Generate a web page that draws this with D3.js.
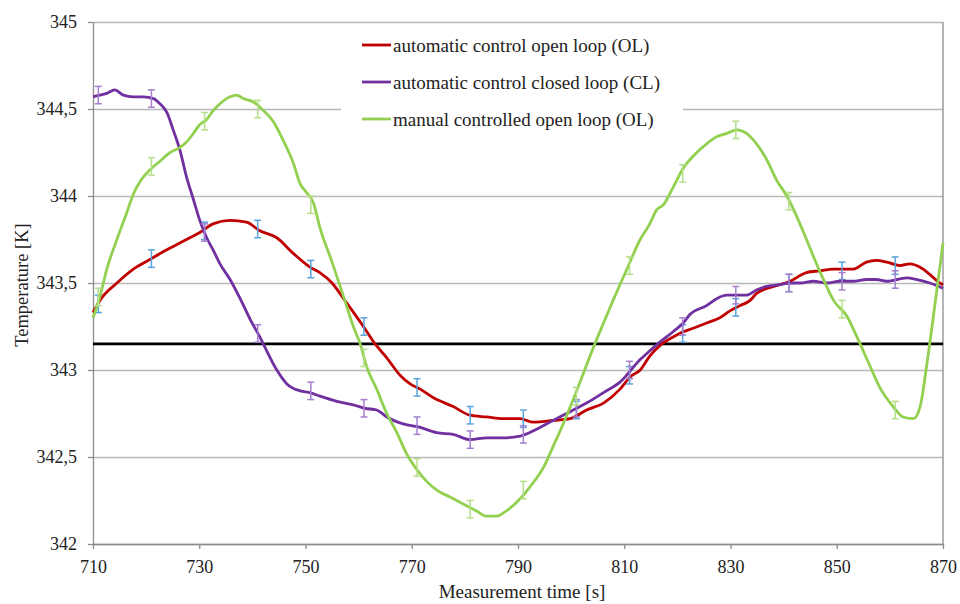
<!DOCTYPE html>
<html>
<head>
<meta charset="utf-8">
<script src="https://cdn.jsdelivr.net/npm/d3@7"></script>
<style>
  body { margin: 0; background: #fff; }
  svg text { font-family: "Liberation Serif", "DejaVu Serif", serif; fill: #222; }
</style>
</head>
<body>
<script>
// series, [time s, temperature K]
const olCurve = [
  [710, 343.33], [711.3, 343.40], [714.5, 343.50], [717.6, 343.58], [721, 343.64], [723.2, 343.68],
  [725.1, 343.71], [727.6, 343.75], [730.1, 343.79], [732.6, 343.84], [735.8, 343.86], [738.9, 343.85],
  [741.4, 343.80], [744.6, 343.76], [747.7, 343.67], [750.9, 343.59], [752.7, 343.56], [755, 343.50],
  [757.4, 343.40], [760.9, 343.25], [763.1, 343.15], [765.3, 343.07], [767.8, 342.97], [769.7, 342.92],
  [771.6, 342.89], [774.1, 342.84], [777.8, 342.79], [781, 342.74], [784.1, 342.73], [787.2, 342.72],
  [790.4, 342.72], [792.9, 342.70], [796.6, 342.71], [799.8, 342.72], [802.9, 342.77], [806.1, 342.81],
  [809.2, 342.89], [811.1, 342.96], [813, 343.00], [814.8, 343.08], [816.7, 343.14], [819.2, 343.19],
  [821.1, 343.22], [823, 343.24], [825.5, 343.27], [828, 343.30], [829.9, 343.34], [831.8, 343.37],
  [833.7, 343.40], [834.9, 343.44], [838.1, 343.48], [841.2, 343.51], [844.3, 343.56], [846.8, 343.57],
  [849.4, 343.58], [853.1, 343.58], [855.6, 343.62], [857.5, 343.63], [859.4, 343.62], [861.9, 343.60],
  [863.8, 343.61], [865.7, 343.59], [867.5, 343.55], [869.4, 343.50], [870, 343.49]
];

const clCurve = [
  [710, 344.57], [711.3, 344.58], [712.6, 344.59], [714.1, 344.61], [715.7, 344.58], [717.6, 344.57],
  [719.5, 344.57], [721.4, 344.56], [722.6, 344.53], [723.9, 344.48], [725.1, 344.38], [726.4, 344.26],
  [727.6, 344.11], [728.9, 343.98], [730.1, 343.86], [731.4, 343.76], [732.6, 343.69], [733.9, 343.61],
  [735.8, 343.52], [737.7, 343.41], [739.6, 343.29], [741.4, 343.19], [742.7, 343.11], [744.6, 343.00],
  [746.5, 342.92], [749, 342.88], [750.8, 342.87], [752.7, 342.85], [755.9, 342.82], [759, 342.80],
  [761.2, 342.78], [763.4, 342.77], [765.3, 342.73], [768.4, 342.69], [771.6, 342.67], [774.7, 342.64],
  [777.8, 342.63], [781, 342.60], [784.1, 342.61], [787.2, 342.61], [790.4, 342.62], [793.5, 342.66],
  [796.6, 342.71], [799.8, 342.76], [802.9, 342.81], [806.1, 342.87], [809.2, 342.93], [813, 343.06],
  [814.8, 343.11], [816.7, 343.16], [819.2, 343.22], [821.1, 343.27], [822.4, 343.32], [825.5, 343.37],
  [827.4, 343.41], [829.3, 343.43], [831.2, 343.43], [833, 343.43], [834.9, 343.46], [836.8, 343.48],
  [839.3, 343.49], [841.2, 343.50], [843.1, 343.50], [845.6, 343.51], [848.1, 343.50], [850.6, 343.51],
  [853.1, 343.51], [855.6, 343.52], [857.5, 343.52], [859.4, 343.51], [863.2, 343.53], [865.1, 343.52],
  [867.5, 343.50], [870, 343.47]
];

const manCurve = [
  [710, 343.30], [711.3, 343.42], [712.6, 343.58], [714.5, 343.75], [716.3, 343.90], [717.6, 344.01],
  [718.8, 344.08], [720.7, 344.15], [722.6, 344.20], [724.5, 344.25], [726.4, 344.28], [727.6, 344.31],
  [728.9, 344.36], [730.1, 344.41], [731.4, 344.44], [732.6, 344.49], [733.9, 344.53], [735.8, 344.57],
  [737, 344.58], [738.3, 344.56], [740.2, 344.54], [742.1, 344.49], [743.9, 344.43], [745.8, 344.32],
  [747.7, 344.19], [749, 344.07], [750.2, 344.02], [751.5, 343.96], [752.7, 343.82], [755, 343.62],
  [757.4, 343.40], [759, 343.25], [760.3, 343.15], [761.5, 343.02], [763.4, 342.89], [765.3, 342.75],
  [767.2, 342.64], [769, 342.52], [770.9, 342.43], [772.8, 342.36], [774.7, 342.31], [777.2, 342.27],
  [779.7, 342.23], [782.2, 342.19], [784.1, 342.16], [786, 342.16], [787.8, 342.19], [790.4, 342.26],
  [792.3, 342.33], [794.8, 342.44], [796.6, 342.56], [798.5, 342.69], [800.4, 342.83], [802.3, 342.98],
  [804.2, 343.13], [806.1, 343.27], [807.9, 343.40], [810.5, 343.58], [813, 343.75], [814.8, 343.84],
  [816.1, 343.92], [817.4, 343.95], [819.2, 344.05], [821.1, 344.16], [823, 344.23], [825.5, 344.30],
  [827.4, 344.34], [829.3, 344.36], [831.2, 344.38], [833, 344.36], [834.9, 344.30], [836.8, 344.21],
  [838.7, 344.09], [840.6, 344.00], [842.5, 343.88], [844.3, 343.75], [846.2, 343.61], [848.1, 343.48],
  [849.4, 343.40], [851.9, 343.31], [853.8, 343.19], [856.3, 343.02], [858.1, 342.90], [860.6, 342.79],
  [862.5, 342.73], [864.4, 342.72], [865.7, 342.79], [866.9, 343.02], [868.2, 343.31], [870, 343.73]
];

// error bar positions and centres
const errTimes = [711, 721, 731, 741, 751, 761, 771, 781, 791, 801, 811, 821, 831, 841, 851, 861];
const olErr  = [343.38, 343.64, 343.80, 343.81, 343.58, 343.25, 342.90, 342.74, 342.72, 342.77, 342.97, 343.21, 343.36, 343.50, 343.57, 343.60];
const clErr  = [344.58, 344.56, 343.79, 343.21, 342.88, 342.78, 342.68, 342.60, 342.63, 342.78, 343.00, 343.25, 343.43, 343.50, 343.51, 343.52];
const manErr = [343.42, 344.17, 344.43, 344.50, 343.95, 343.07, 342.44, 342.20, 342.31, 342.85, 343.60, 344.13, 344.38, 343.97, 343.35, 342.77];
const errHalf = 0.05;

const seriesNames = ["automatic control open loop (OL)", "automatic control closed loop (CL)", "manual controlled open loop (OL)"];
const setpoint = 343.15;

const xTicks = [710, 730, 750, 770, 790, 810, 830, 850, 870];
const yTicks = [342, 342.5, 343, 343.5, 344, 344.5, 345];

const W = 960, H = 604;
const plotL = 93, plotR = 943, plotT = 22, plotB = 544;
const serif = '"Liberation Serif", "DejaVu Serif", serif';

const svg = d3.select("body").append("svg").attr("width", W).attr("height", H);

const x = d3.scaleLinear().domain([710, 870]).range([plotL, plotR]);
const y = d3.scaleLinear().domain([342, 345]).range([plotB, plotT]);

const comma = d3.formatLocale({decimal: ",", thousands: ".", grouping: [3], currency: ["", ""]}).format("~f");

// gridlines
svg.append("g")
    .attr("transform", `translate(${plotL},0)`)
    .call(d3.axisLeft(y).tickValues(yTicks).tickSize(-(plotR - plotL)).tickFormat(""))
    .call(g => g.select(".domain").remove())
    .call(g => g.selectAll("line").attr("stroke", "#b8b8b8").attr("stroke-width", 1.3));

// right border
svg.append("line")
    .attr("x1", plotR).attr("x2", plotR).attr("y1", plotT).attr("y2", plotB)
    .attr("stroke", "#8c8c8c").attr("stroke-width", 1.3);

// y axis
svg.append("g")
    .attr("transform", `translate(${plotL},0)`)
    .call(d3.axisLeft(y).tickValues(yTicks).tickSize(5).tickSizeOuter(0).tickPadding(11).tickFormat(comma))
    .attr("font-family", serif)
    .call(g => g.select(".domain").attr("stroke", "#8c8c8c").attr("stroke-width", 1.3))
    .call(g => g.selectAll(".tick line").attr("stroke", "#8c8c8c").attr("stroke-width", 1.3))
    .call(g => g.selectAll("text").attr("font-size", 18).attr("fill", "#222"));

// x axis
svg.append("g")
    .attr("transform", `translate(0,${plotB})`)
    .call(d3.axisBottom(x).tickValues(xTicks).tickSize(5).tickSizeOuter(0).tickPadding(11))
    .attr("font-family", serif)
    .call(g => g.select(".domain").attr("stroke", "#8c8c8c").attr("stroke-width", 1.3))
    .call(g => g.selectAll(".tick line").attr("stroke", "#8c8c8c").attr("stroke-width", 1.3))
    .call(g => g.selectAll("text").attr("font-size", 18).attr("fill", "#222"));

// legend background hides the gridline
svg.append("rect")
    .attr("x", 341).attr("y", 28).attr("width", 342).attr("height", 110)
    .attr("fill", "#fff");

// setpoint line
svg.append("line")
    .attr("x1", x(710)).attr("x2", x(870)).attr("y1", y(setpoint)).attr("y2", y(setpoint))
    .attr("stroke", "#000").attr("stroke-width", 2.6);

const line = d3.line()
    .x(d => x(d[0]))
    .y(d => y(d[1]))
    .curve(d3.curveMonotoneX);

const series = [
  {curve: olCurve, err: olErr, color: "#c00000", errColor: "#5ba3dc"},
  {curve: clCurve, err: clErr, color: "#7030a0", errColor: "#a57fd0"},
  {curve: manCurve, err: manErr, color: "#92d050", errColor: "#b3df88"}
];

series.forEach(s => {
    svg.append("path")
        .datum(s.curve)
        .attr("d", line)
        .attr("fill", "none")
        .attr("stroke", s.color)
        .attr("stroke-width", 2.8)
        .attr("stroke-linejoin", "round");

    let bars = svg.append("g").selectAll("g")
        .data(errTimes.map((t, i) => [t, s.err[i]]))
        .enter().append("g")
        .attr("stroke", s.errColor)
        .attr("stroke-width", 1.5);

    bars.append("line")
        .attr("x1", d => x(d[0])).attr("x2", d => x(d[0]))
        .attr("y1", d => y(d[1] - errHalf)).attr("y2", d => y(d[1] + errHalf));
    bars.append("line")
        .attr("x1", d => x(d[0]) - 3.5).attr("x2", d => x(d[0]) + 3.5)
        .attr("y1", d => y(d[1] - errHalf)).attr("y2", d => y(d[1] - errHalf));
    bars.append("line")
        .attr("x1", d => x(d[0]) - 3.5).attr("x2", d => x(d[0]) + 3.5)
        .attr("y1", d => y(d[1] + errHalf)).attr("y2", d => y(d[1] + errHalf));
});

// legend
const legend = svg.append("g").selectAll("g")
    .data(seriesNames)
    .enter().append("g")
    .attr("transform", (d, i) => `translate(362,${45 + i * 37})`);

legend.append("line")
    .attr("x1", 0).attr("x2", 29)
    .attr("stroke", (d, i) => series[i].color)
    .attr("stroke-width", 2.8);

legend.append("text")
    .attr("x", 31).attr("y", 7)
    .attr("font-family", serif)
    .attr("font-size", 19)
    .text(d => d);

// axis titles
svg.append("text")
    .attr("x", 522).attr("y", 598)
    .attr("text-anchor", "middle")
    .attr("font-family", serif)
    .attr("font-size", 19)
    .text("Measurement time [s]");

svg.append("text")
    .attr("transform", "translate(28,285) rotate(-90)")
    .attr("text-anchor", "middle")
    .attr("font-family", serif)
    .attr("font-size", 18.5)
    .text("Temperature [K]");
</script>
</body>
</html>
